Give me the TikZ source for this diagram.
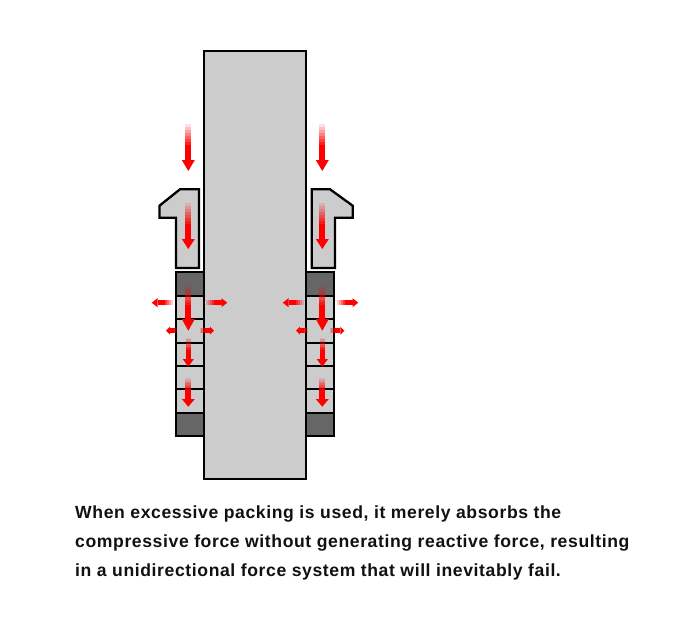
\documentclass[tikz,border=0pt]{standalone}
\usepackage{fontspec}
\setmainfont{Liberation Sans}
\definecolor{partgray}{HTML}{CCCCCC}
\definecolor{endgray}{HTML}{666666}
\definecolor{captionink}{HTML}{111111}
\tikzset{
  part/.style={draw=black,line width=2.3pt,fill=partgray,line join=miter},
  endring/.style={draw=black,line width=2.3pt,fill=endgray},
  caption/.style={anchor=base west,inner sep=0pt,text=captionink,font=\fontsize{17.6pt}{20pt}\selectfont\bfseries}
}
% vertical arrow: #1 x, #2 top, #3 head top, #4 tip, #5 half shaft, #6 half head
\newcommand{\vArrow}[6]{%
  \foreach \i in {0,...,11}{%
    \pgfmathsetmacro{\ya}{#2+(#3-#2)*\i/12}%
    \pgfmathsetmacro{\yb}{#2+(#3-#2)*(\i+1)/12}%
    \pgfmathsetmacro{\op}{min(1,(\i+1)/8)}%
    \fill[red,fill opacity=\op] (#1-#5,\ya) rectangle (#1+#5,\yb);
  }%
  \fill[red] (#1-#6,#3) -- (#1+#6,#3) -- (#1,#4) -- cycle;
}
% horizontal arrow: #1 y, #2 tail, #3 head base, #4 tip, #5 half shaft, #6 half head
\newcommand{\hArrow}[6]{%
  \foreach \i in {0,...,7}{%
    \pgfmathsetmacro{\xa}{#2+(#3-#2)*\i/8}%
    \pgfmathsetmacro{\xb}{#2+(#3-#2)*(\i+1)/8}%
    \pgfmathsetmacro{\op}{min(1,(\i+1)/5)}%
    \fill[red,fill opacity=\op] (\xa,#1-#5) rectangle (\xb,#1+#5);
  }%
  \fill[red] (#3,#1-#6) -- (#3,#1+#6) -- (#4,#1) -- cycle;
}
\begin{document}
\begin{tikzpicture}[x=1pt,y=-1pt]
\useasboundingbox (0,0) rectangle (677,626);
% shaft
\draw[part] (204,51) rectangle (306,479);
% glands
\draw[part] (159.5,205.7) -- (180,189.3) -- (199,189.3) -- (199,268) -- (176,268) -- (176,217.7) -- (159.5,217.7) -- cycle;
\draw[part] (352.7,205.7) -- (330,189.3) -- (311.7,189.3) -- (311.7,268) -- (335,268) -- (335,217.7) -- (352.7,217.7) -- cycle;
% packing stacks
\foreach \xl/\xr in {176/204,306/334}{
  \draw[endring] (\xl,271.7) rectangle (\xr,295.7);
  \draw[part] (\xl,295.7) rectangle (\xr,318.7);
  \draw[part] (\xl,318.7) rectangle (\xr,343);
  \draw[part] (\xl,343) rectangle (\xr,365.7);
  \draw[part] (\xl,365.7) rectangle (\xr,388.7);
  \draw[part] (\xl,388.7) rectangle (\xr,412.7);
  \draw[endring] (\xl,412.7) rectangle (\xr,436.3);
}
% vertical force arrows
\foreach \x in {188.3,322.3}{
  \vArrow{\x}{124}{160}{171}{2.9}{6.5}
  \vArrow{\x}{203}{239}{249}{2.9}{6.5}
  \vArrow{\x}{285.7}{319}{330.7}{3.1}{6.5}
  \vArrow{\x}{337.7}{359}{366.7}{2.6}{5.6}
  \vArrow{\x}{378}{399}{406.7}{2.9}{6.5}
}
% horizontal force arrows, left
\hArrow{302.7}{172.7}{157.5}{151.7}{2.3}{4.5}
\hArrow{302.7}{206}{221.5}{227.3}{2.3}{4.5}
\hArrow{330.7}{177}{170}{166}{2.3}{4}
\hArrow{330.7}{200}{210}{214}{2.3}{4}
% horizontal force arrows, right
\hArrow{302.7}{304}{288.5}{282.7}{2.3}{4.5}
\hArrow{302.7}{336.7}{352.5}{358.3}{2.3}{4.5}
\hArrow{330.7}{307.7}{300}{296}{2.3}{4}
\hArrow{330.7}{330}{340.3}{344.3}{2.3}{4}
% caption
\node[caption] (l1) at (75,518.3) {\addfontfeatures{LetterSpace=3.4}When excessive packing is used, it merely absorbs the};
\node[caption] (l2) at (75,547.5) {\addfontfeatures{LetterSpace=3.4}compressive force without generating reactive force, resulting};
\node[caption] (l3) at (75,576.5) {\addfontfeatures{LetterSpace=3.4}in a unidirectional force system that will inevitably fail.};
\end{tikzpicture}
\end{document}
